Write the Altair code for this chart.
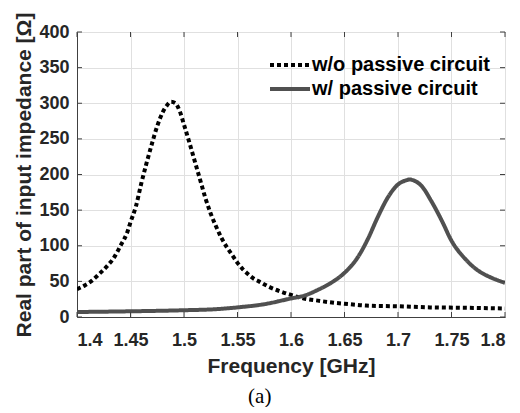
import altair as alt
import pandas as pd

# ---- data ----
f_wo = [1.400, 1.408, 1.414, 1.419, 1.424, 1.429, 1.4335, 1.4375, 1.441, 1.444,
        1.447, 1.450, 1.455, 1.460, 1.465, 1.470, 1.475, 1.480, 1.484, 1.488,
        1.492, 1.496, 1.500, 1.505, 1.510, 1.515, 1.520, 1.525, 1.530, 1.535,
        1.540, 1.545, 1.550, 1.555, 1.560, 1.565, 1.570, 1.580, 1.590, 1.600,
        1.612, 1.625, 1.640, 1.655, 1.670, 1.700, 1.730, 1.760, 1.800]
r_wo = [39, 45, 51, 58, 65, 73, 81, 91, 101, 109,
        119, 133, 155, 187, 216, 243, 268, 287, 297, 302,
        300, 289, 270, 245, 219, 193, 167, 145, 127, 111,
        98, 87, 76, 67, 60, 54, 50, 42, 36, 31,
        26, 23, 20, 18, 16, 15, 13.5, 13, 12]

f_w = [1.400, 1.450, 1.500, 1.530, 1.550, 1.575, 1.600, 1.6125, 1.625, 1.6375,
       1.650, 1.6625, 1.672, 1.681, 1.6906, 1.700, 1.708, 1.711, 1.714, 1.722,
       1.731, 1.741, 1.750, 1.7625, 1.775, 1.7875, 1.800]
r_w = [7, 8, 9.5, 11, 13.5, 18, 26, 30, 38, 48,
       62, 84, 110, 140, 168, 186, 192, 193, 192, 184,
       163, 135, 107, 82, 65, 55, 48]

series_names = ["w/o passive circuit", "w/ passive circuit"]
x_ticks = [1.4, 1.45, 1.5, 1.55, 1.6, 1.65, 1.7, 1.75, 1.8]
y_ticks = [0, 50, 100, 150, 200, 250, 300, 350, 400]

df = pd.concat([
    pd.DataFrame({"f": f_wo, "r": r_wo, "s": series_names[0], "o": range(len(f_wo))}),
    pd.DataFrame({"f": f_w, "r": r_w, "s": series_names[1], "o": range(len(f_w))}),
])
xt = pd.DataFrame({"f": x_ticks})
yt = pd.DataFrame({"r": y_ticks})

FONT = "Liberation Sans"
W, H, TL = 428, 285, 5
TICK = "#404040"

xs = alt.Scale(domain=[1.4, 1.8], nice=False)
ys = alt.Scale(domain=[0, 400], nice=False)
xaxis = alt.Axis(values=x_ticks, format="~g", title="Frequency [GHz]",
                 labelPadding=14, titlePadding=6, tickSize=0, labelOverlap=False)
yaxis = alt.Axis(values=y_ticks, title="Real part of input impedance [Ω]",
                 labelPadding=8, titlePadding=4, tickSize=0, labelOverlap=False)

x = alt.X("f:Q", scale=xs, axis=xaxis)
y = alt.Y("r:Q", scale=ys, axis=yaxis)

legend = alt.Legend(title=None, orient="none", legendX=191, legendY=23,
                    symbolType="stroke", symbolSize=1600, symbolStrokeWidth=4,
                    labelFontSize=20, labelFont=FONT, labelFontWeight="bold",
                    labelColor="#000000", labelOffset=0, labelLimit=400, clipHeight=20,
                    rowPadding=4, padding=0)

lines = alt.Chart(df).mark_line(strokeWidth=4, interpolate="monotone", clip=True).encode(
    x=x, y=y, order="o:Q",
    color=alt.Color("s:N", scale=alt.Scale(domain=series_names, range=["#000000", "#505050"]),
                    legend=legend),
    strokeDash=alt.StrokeDash("s:N", scale=alt.Scale(domain=series_names, range=[[4, 3], [1, 0]]),
                              legend=legend),
)

# inward tick marks on all four sides (MATLAB box style)
xb = alt.Chart(xt).mark_rule(color=TICK, strokeWidth=1).encode(
    x=x, y=alt.value(H), y2=alt.value(H - TL))
xtop = alt.Chart(xt).mark_rule(color=TICK, strokeWidth=1).encode(
    x=x, y=alt.value(0), y2=alt.value(TL))
yl = alt.Chart(yt).mark_rule(color=TICK, strokeWidth=1).encode(
    y=y, x=alt.value(0), x2=alt.value(TL))
yr = alt.Chart(yt).mark_rule(color=TICK, strokeWidth=1).encode(
    y=y, x=alt.value(W - TL), x2=alt.value(W))

chart = alt.layer(lines, xb, xtop, yl, yr).properties(
    width=W, height=H,
    padding={"left": 5, "top": 4, "right": 5, "bottom": 0},
    title=alt.TitleParams(text="(a)", orient="bottom", anchor="middle", frame="bounds",
                          font="Liberation Serif", fontSize=21, fontWeight="normal",
                          color="#000000", offset=10),
).configure_view(stroke="#404040", strokeWidth=1).configure_axis(
    labelFont=FONT, labelFontWeight="bold", labelFontSize=18, labelColor="#262626",
    titleFont=FONT, titleFontWeight="bold", titleFontSize=21, titleColor="#262626",
    gridColor="#e0e0e0", gridWidth=1, domainColor="#404040", domainWidth=1,
)

chart.save("out.html", embed_options={"renderer": "svg", "actions": False})
